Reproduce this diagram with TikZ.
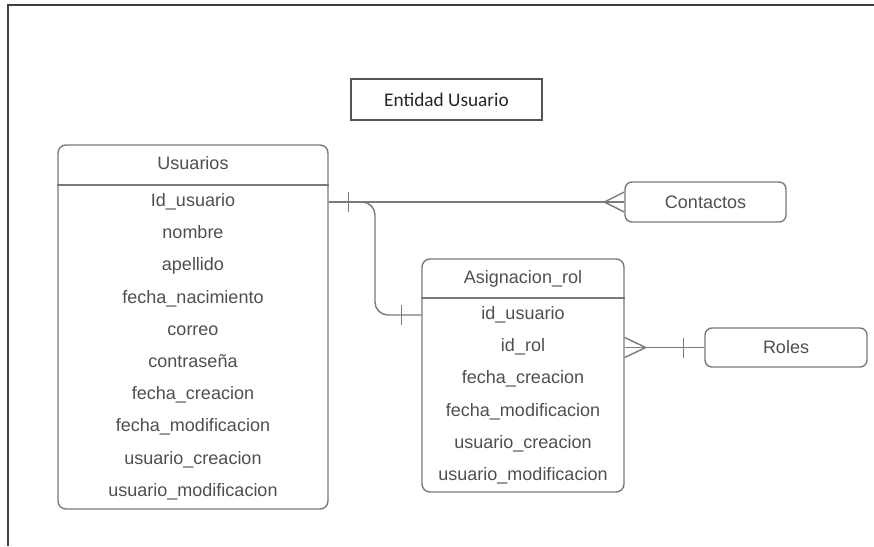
\documentclass[tikz,border=0pt]{standalone}
\usepackage{fontspec}
\setmainfont{Liberation Sans}
\newfontfamily\titlefont{Carlito}
\usetikzlibrary{calc}
\definecolor{edge}{HTML}{7A7A7A}
\definecolor{ink}{HTML}{4F4F4F}
\definecolor{frame}{HTML}{404040}
\begin{document}
\begin{tikzpicture}[x=1pt,y=-1pt,
  tbl/.style={draw=edge, line width=1.4pt, rounded corners=8pt, inner sep=0pt},
  ent/.style={draw=edge, line width=1.4pt, rounded corners=7pt, inner sep=0pt,
    text=ink, font=\fontsize{18}{20}\selectfont},
  lbl/.style={text=ink, inner sep=0pt, text height=13pt, text depth=4pt,
    font=\fontsize{18}{20}\selectfont},
  rel/.style={draw=edge, line width=1.4pt},
  titlebox/.style={draw=frame!90, line width=1.5pt, inner sep=0pt, text=black!85,
    font=\titlefont\fontsize{19.3}{22}\selectfont}]
\useasboundingbox (0,0) rectangle (874,546);

% page frame (top and left edges)
\draw[frame, line width=2pt] (874,4.5) -- (8,4.5) -- (8,546);

% title
\node[titlebox, minimum width=191pt, minimum height=41pt] (title) at (446.5,99.5) {Entidad Usuario};

% table Usuarios
\node[tbl, minimum width=270pt, minimum height=364pt] (usu) at (193,327) {};
\draw[edge, line width=1.4pt] (usu.west |- 0,185) -- (usu.east |- 0,185);
\node[lbl] (usuH) at (193,165) {Usuarios};
\foreach \t [count=\i] in {Id\_usuario, nombre, apellido, fecha\_nacimiento, correo,
    contraseña, fecha\_creacion, fecha\_modificacion, usuario\_creacion,
    usuario\_modificacion}
  \node[lbl] (u\i) at (193,{202+32.2*(\i-1)}) {\t};

% table Asignacion_rol
\node[tbl, minimum width=202pt, minimum height=233pt] (asg) at (523,375.5) {};
\draw[edge, line width=1.4pt] (asg.west |- 0,298) -- (asg.east |- 0,298);
\node[lbl] (asgH) at (523,279) {Asignacion\_rol};
\foreach \t [count=\i] in {id\_usuario, id\_rol, fecha\_creacion, fecha\_modificacion,
    usuario\_creacion, usuario\_modificacion}
  \node[lbl] (a\i) at (523,{315+32.2*(\i-1)}) {\t};

% related entities
\node[ent, minimum width=161pt, minimum height=40pt] (con) at (705.5,202) {Contactos};
\node[ent, minimum width=162pt, minimum height=39pt] (rol) at (786,347.5) {Roles};

% Usuarios -- Contactos (one to many)
\coordinate (uk) at (usu.east |- con.west);
\draw[rel] (uk) -- (con.west);
\draw[rel] ($(uk)+(20,-10)$) -- ($(uk)+(20,10)$);
\draw[rel] ($(con.west)+(0,-10)$) -- ($(con.west)+(-20,0)$) -- ($(con.west)+(0,10)$);

% Usuarios -- Asignacion_rol (one to one)
\coordinate (bend) at (375,315);
\draw[rel, rounded corners=13pt] (uk) -| (bend) -- (asg.west |- bend);
\draw[rel] ($(asg.west |- bend)+(-20,-10)$) -- ($(asg.west |- bend)+(-20,10)$);

% Asignacion_rol -- Roles (many to one)
\coordinate (rk) at (asg.east |- rol.west);
\draw[rel] (rk) -- (rol.west);
\draw[rel] ($(rk)+(0,-10)$) -- ($(rk)+(21,0)$) -- ($(rk)+(0,10)$);
\draw[rel] ($(rol.west)+(-21,-10)$) -- ($(rol.west)+(-21,10)$);
\end{tikzpicture}
\end{document}
